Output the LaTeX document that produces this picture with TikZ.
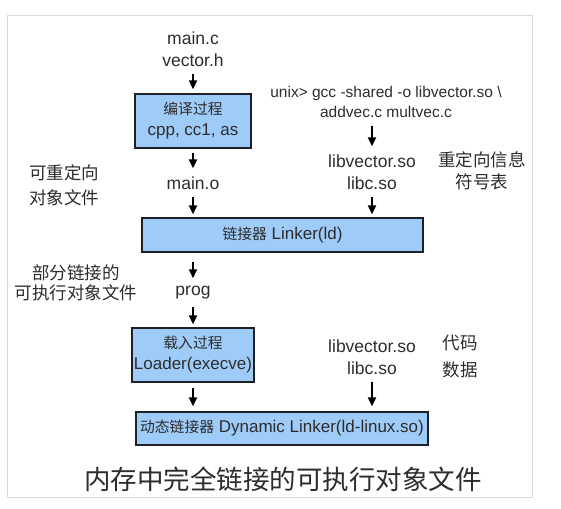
\documentclass[tikz,border=0pt]{standalone}
\usepackage{fontspec}
\setmainfont{Liberation Sans}
\newfontfamily\cjk{Noto Sans CJK SC}
\usetikzlibrary{arrows.meta}
\definecolor{boxfill}{RGB}{158,203,247}
\definecolor{boxline}{RGB}{30,32,40}
\definecolor{txtcol}{RGB}{45,45,45}
\definecolor{framecol}{RGB}{218,218,218}
\tikzset{
  procbox/.style={draw=boxline, fill=boxfill, line width=1.2pt, inner sep=0pt, align=center, text=txtcol, font=\fontsize{17}{21}\selectfont},
  txt/.style={inner sep=0pt, align=center, text=txtcol, font=\fontsize{17.5}{22}\selectfont},
  lbl/.style={inner sep=0pt, align=center, text=txtcol},
  arr/.style={-{Triangle[width=8pt,length=9pt]}, line width=1.8pt, draw=black},
}
\newcommand{\bcjk}[1]{{\cjk\fontsize{14.8}{21}\selectfont #1}}
\begin{document}
\begin{tikzpicture}[x=1pt,y=-1pt]
\useasboundingbox (0,0) rectangle (561,508);
\fill[white] (0,0) rectangle (561,508);
\draw[framecol, line width=1pt] (7,16) rectangle (532,497);

\node[txt] (src) at (193,49) {main.c\\vector.h};
\node[procbox, minimum width=116pt, minimum height=54pt] (box1) at (193,121) {\bcjk{编译过程}\\cpp, cc1, as};
\node[txt] (maino) at (193,183) {main.o};
\node[lbl, font=\cjk\fontsize{17.5}{25}\selectfont] (lbl1) at (64,185) {可重定向\\对象文件};

\node[txt, font=\fontsize{15.5}{19.5}\selectfont] (gcc) at (386,102) {unix> gcc -shared -o libvector.so \textbackslash\\addvec.c multvec.c};
\node[txt] (libs1) at (372,172) {libvector.so\\libc.so};
\node[lbl, font=\cjk\fontsize{17.5}{22}\selectfont] (lbl2) at (482,171) {重定向信息\\符号表};

\node[procbox, minimum width=281pt, minimum height=34pt] (linker) at (282.5,235) {\bcjk{链接器} Linker(ld)};

\node[txt] (prog) at (193,293) {prog};
\node[lbl, font=\cjk\fontsize{17.5}{20.5}\selectfont] (lbl3) at (76,283) {部分链接的\\可执行对象文件};

\node[procbox, minimum width=122pt, minimum height=54pt] (loader) at (193,355) {\bcjk{载入过程}\\Loader(execve)};
\node[txt] (libs2) at (372,357) {libvector.so\\libc.so};
\node[lbl, font=\cjk\fontsize{17.5}{27}\selectfont] (lbl4) at (460,356) {代码\\数据};

\node[procbox, minimum width=292pt, minimum height=33pt] (dyn) at (282,428.5) {\bcjk{动态链接器} Dynamic Linker(ld-linux.so)};

\node[lbl, font=\cjk\fontsize{26.5}{30}\selectfont] (title) at (283,479) {内存中完全链接的可执行对象文件};

\draw[arr, shorten <=7pt, shorten >=4pt] (src.south) -- (box1.north);
\draw[arr, shorten <=4pt, shorten >=8pt] (box1.south) -- (maino.north);
\draw[arr, shorten <=7pt, shorten >=3pt] (maino.south) -- (maino.south |- linker.north);
\draw[arr, shorten <=8pt, shorten >=8pt] (libs1.north |- gcc.south) -- (libs1.north);
\draw[arr, shorten <=7pt, shorten >=3pt] (libs1.south) -- (libs1.south |- linker.north);
\draw[arr, shorten <=9pt, shorten >=8pt] (prog.north |- linker.south) -- (prog.north);
\draw[arr, shorten <=7pt, shorten >=3pt] (prog.south) -- (loader.north);
\draw[arr, shorten <=5pt, shorten >=5pt] (loader.south) -- (loader.south |- dyn.north);
\draw[arr, shorten <=7pt, shorten >=5pt] (libs2.south) -- (libs2.south |- dyn.north);
\end{tikzpicture}
\end{document}
